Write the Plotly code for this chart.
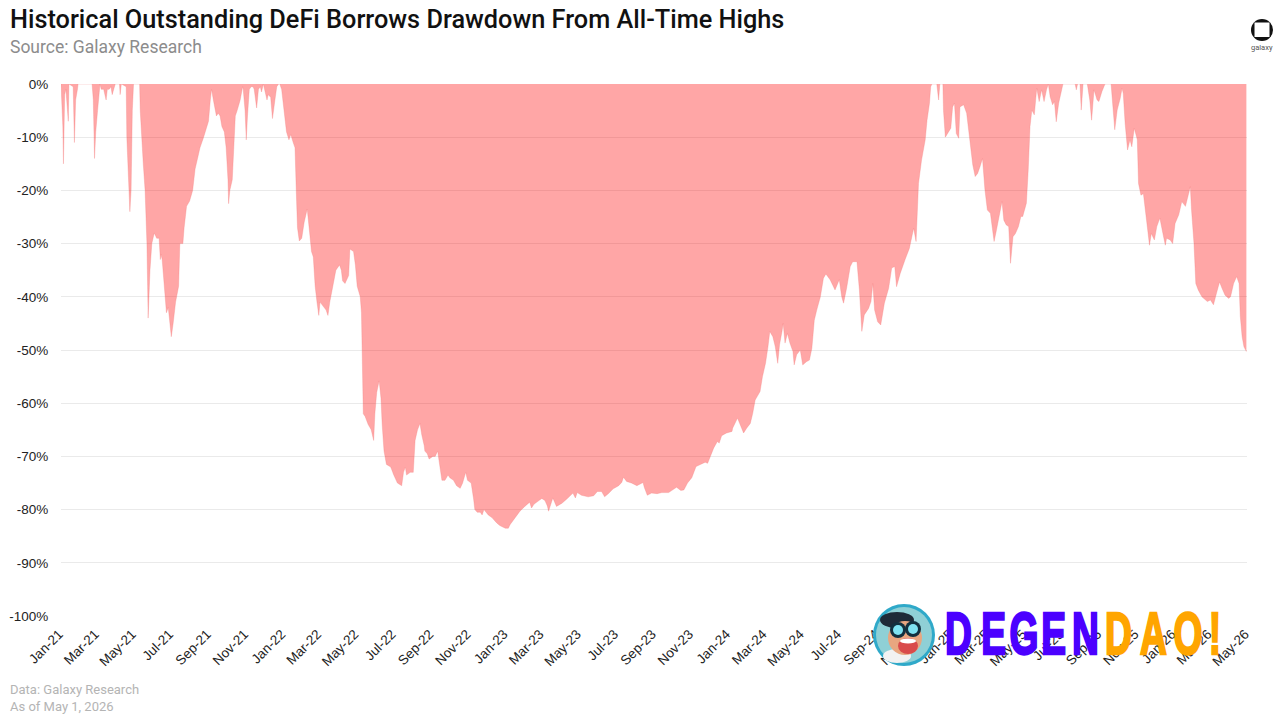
import datetime as dt
import plotly.graph_objects as go

START = dt.date(2021, 1, 1)

days_since_start = [
    0,3,4,6,8,12,13,20,22,24,27,28,51,53,55,57,60,62,64,66,70,74,76,79,82,84,87,89,96,97,99,107,108,111,113,115,117,119,129,
    130,132,135,138,141,143,146,149,153,157,161,163,164,166,169,173,176,179,181,184,188,193,195,200,202,206,211,216,220,224,228,234,238,242,245,247,250,253,255,258,261,264,268,271,274,275,277,281,283,286,289,294,298,299,302,304,306,309,312,315,317,321,324,327,329,332,338,340,344,347,351,354,357,
    359,362,366,370,374,377,381,384,386,388,391,395,399,404,408,411,414,417,420,423,425,431,435,438,441,446,451,457,460,462,466,472,474,480,483,486,491,493,494,496,499,504,509,513,515,518,522,525,527,530,534,541,546,552,559,562,565,567,573,578,581,585,589,592,596,597,601,604,610,614,618,622,625,630,635,638,644,649,655,659,664,667,673,677,679,683,688,691,694,701,707,715,720,729,734,
    737,745,753,761,769,772,776,783,789,794,798,800,804,807,813,822,830,835,840,844,847,854,865,874,880,887,892,898,906,915,920,923,928,936,945,955,957,962,969,978,986,997,1005,1010,1017,1022,1028,1035,1042,1051,1057,1061,1065,1071,1077,1080,1084,1092,1101,1102,1110,1114,1120,1125,1131,1135,1139,
    1142,1147,1151,1156,1160,1163,1168,1172,1176,1179,1183,1185,1188,1192,1196,1201,1203,1207,1213,1217,1223,1228,1232,1236,1240,1246,1251,1255,1262,1270,1277,1281,1284,1289,1295,1299,1306,1310,1314,1318,1325,1329,1332,1335,1340,1345,1351,1358,1363,1368,1371,1377,
    1385,1392,1399,1403,1407,1412,1418,1421,1425,1427,1429,1437,1440,1442,1447,1448,1451,1453,1458,1460,1463,1466,1469,1473,1475,1481,1486,1492,1496,1500,1504,1508,1512,1516,1520,1525,1529,1531,1535,1540,1544,1547,1551,1555,1558,1562,1566,1571,1575,1578,1584,1587,1590,1593,1597,1601,1605,1609,1613,1617,1620,1623,1627,1630,1633,1637,1640,1644,1664,1666,1668,1672,1674,1677,1684,1688,1691,1695,1700,1703,1708,1713,1723,1726,1729,1733,1738,1741,1743,1746,1750,1754,1757,1761,1766,1768,1772,1776,1779,1783,1786,1789,1794,1798,1803,1808,1812,1814,1820,1824,1828,1834,1839,1845,1848,1853,1855,1859,1862,1866,1872,1877,1881,1886,1891,1896,1901,1905,1910,1916,1919,1924,1929,1933,1935,1938,1941,1945,
]

drawdown_pct = [
    0,-8,-15,-2,-1,-7,0,-0.5,-11,-3,-1,0,0,-3,-14,-9,-5,-2,0,-1,-1,-3,-1,-1,-0.5,-2,-1,0,0,-2,0,-0.5,-10,-18,-24,-20,-5,0,0,
    -5,-10,-15,-20,-30,-44,-35,-30,-28,-29,-29,-33,-32,-33,-37,-43,-42,-46,-47.5,-45,-41,-38,-30,-30,-27,-23,-22,-20,-16,-14,-12,-10,-8.5,-7,-3,-1,-3,-5,-6,-5.5,-6,-8,-9,-12,-18,-22.5,-20,-18,-12,-6,-5,-3,-0.5,-1,-5,-10.5,-6,-1,-0.5,-0.5,-1,-4.5,-1,-0.5,-1.5,0,-3,-2,-2.5,-6.5,-3,-0.5,0,
    0,-1,-5,-9,-10.5,-9.5,-11,-12,-20,-27,-29.5,-29,-26,-23.5,-28,-31.5,-32.5,-38,-41,-43.5,-41,-42,-42.5,-43.5,-41,-38,-35,-34,-35,-37,-37.5,-36,-31,-31.5,-34,-38,-40,-43,-52,-62,-62.5,-64,-65,-67,-62,-58,-55.8,-59,-64,-69,-71.5,-72,-73.5,-75,-75.5,-73,-72,-73.5,-73,-73,-67,-65,-63.8,-66,-68,-69,-69.5,-70.5,-70,-70,-69,-72,-74.5,-74.5,-73.5,-74,-74.5,-75.5,-76,-75,-73,-74.5,-75,-78,-80,-80.5,-80.5,-81,-80,-81,-81.5,-82.5,-83,-83.5,-83.5,
    -82.8,-81.6,-80.3,-79.4,-78.6,-79.7,-79,-78.4,-77.9,-78.3,-79.3,-80.3,-78.8,-77.8,-79.4,-78.8,-78,-77.5,-76.9,-77.8,-76.8,-77.3,-77.6,-77.4,-76.6,-76.6,-77.6,-77,-76.1,-75.5,-74.9,-73.9,-74.7,-75,-75.5,-74.9,-75.8,-77.3,-76.9,-77,-76.8,-76.8,-76.1,-75.8,-76.4,-76.3,-75,-74,-71.9,-71.4,-71.1,-71.3,-70,-68.4,-67.2,-67.5,-66.1,-65.6,-65.3,-64.7,-62.8,-63.8,-65.6,-64.7,-63.8,-61.9,-59.4,
    -58.8,-57.8,-55,-52.5,-49.4,-46.5,-47.5,-49.4,-52.5,-49,-46.5,-45,-48.7,-46.9,-48.7,-50.3,-52.8,-50.9,-50,-52.8,-52.2,-51.9,-49.7,-44.4,-42.5,-40,-36.5,-35.7,-36.8,-38.7,-36.8,-40,-41.2,-38.4,-34.3,-33.4,-33.4,-38.7,-46.5,-43.4,-42.2,-40.9,-37.5,-42.5,-44.7,-45.3,-41.2,-38.4,-34.6,-34.3,-38.1,-35.6,
    -33,-30.9,-27.1,-29.6,-18.7,-14.3,-10.5,-6.8,-3.6,-0.5,0,0,-3,0,0,-5,-10,-9.6,-8.6,-8.3,-4.3,-3.6,-9.3,-10.2,-4.3,-3.9,-5.5,-11.2,-15.2,-17.4,-16.8,-15.5,-14,-19.9,-23.7,-24.3,-27.4,-29.6,-27.4,-24.3,-22.1,-25.6,-26.5,-26.8,-33.7,-28.7,-28.1,-26.8,-24.9,-24.9,-22.4,-16.2,-8,-4.9,-5.8,-0.8,-3.3,-1.1,-3.3,-1.1,0,-2.4,-3.9,-3.3,-7.1,-3.6,-1.8,0,0,-1.1,0,0,-4.9,0,0,-3,-6.8,-1.1,-3,-3.3,-1.4,0,0,-3.6,-8.6,-4.9,-2.7,-0.8,-1.8,-7.4,-12.4,-10.5,-11.8,-8.3,-10.5,-18.7,-20.9,-20.6,-23.7,-27.4,-30.3,-28.1,-29.3,-26.8,-25.2,-28.1,-30.3,-29,-29.3,-30,-26.2,-24.6,-22.1,-23,-21.5,-19.3,-23.7,-30,-37.5,-38.7,-40,-40.6,-40.9,-40.6,-41.5,-39.3,-37.2,-38.4,-39.7,-40.3,-40,-37.5,-36.2,-37.5,-43.7,-47.5,-49.4,-50.3,
]

y_ticks = [0, -10, -20, -30, -40, -50, -60, -70, -80, -90, -100]
watermark_letters = list("DEGENDAO!")
watermark_centers = [958.5, 993, 1023.5, 1053, 1085.5, 1118, 1153, 1187.5, 1215]
watermark_colors = ["#4B00FF"] * 5 + ["#FFA500"] * 4

dates = [START + dt.timedelta(days=d) for d in days_since_start]

W, H = 1280, 722
L, R, T, B = 61, 1247, 84, 616
X = lambda px: (px - L) / (R - L)
Y = lambda py: (B - py) / (B - T)

fig = go.Figure(go.Scatter(
    x=dates, y=drawdown_pct, mode="lines", line=dict(width=0.5, color="rgba(240,120,120,0.6)"),
    fill="tozeroy", fillcolor="rgba(255,0,0,0.35)", hoverinfo="x+y",
))

def note(px, py, text, size, color, family="Roboto", weight=None, anchor="left"):
    fig.add_annotation(
        x=X(px), y=Y(py), xref="paper", yref="paper", text=text, showarrow=False,
        xanchor=anchor, yanchor="middle", align="left", borderpad=0,
        font=dict(family=family, size=size, color=color, weight=weight),
    )

def blob(cx, cy, rx, ry, fill):
    fig.add_shape(type="circle", xref="paper", yref="paper", layer="above",
                  x0=X(cx - rx), x1=X(cx + rx), y0=Y(cy + ry), y1=Y(cy - ry),
                  fillcolor=fill, line=dict(color=fill, width=0))

note(8.5, 19, "Historical Outstanding DeFi Borrows Drawdown From All-Time Highs", 25.3, "#111111", weight=500)
note(8.5, 47, "Source: Galaxy Research", 17.5, "#8c8c8c")
note(9, 689, "Data: Galaxy Research", 13, "#b4b4b4")
note(9, 706, "As of May 1, 2026", 13, "#b4b4b4")

# Galaxy logo
blob(1262, 30, 11, 11, "#111111")
fig.add_shape(type="rect", xref="paper", yref="paper", layer="above",
              x0=X(1254.5), x1=X(1269.5), y0=Y(37), y1=Y(22.5),
              fillcolor="white", line=dict(color="white", width=0))
note(1262, 48, "galaxy", 7.5, "#555555", anchor="center")

# Watermark badge
blob(904, 635, 31, 31, "#2FA9C9")
blob(904, 635, 28, 28, "#8FD0D6")
blob(897, 620, 17, 8, "#1E2A38")
blob(897, 656, 14, 7, "#F2F2F2")
blob(905, 638, 17, 17, "#E8A680")
blob(898, 630, 8, 8, "#12303F")
blob(913, 629, 8, 8, "#12303F")
blob(898, 630, 5, 5, "#7FE3F2")
blob(913, 629, 5, 5, "#7FE3F2")
blob(908, 646, 10, 8, "#D94B4B")
blob(908, 641, 8, 2.5, "#FFFFFF")

for letter, cx, color in zip(watermark_letters, watermark_centers, watermark_colors):
    note(cx, 634, letter, 59, color, family="Liberation Sans", weight=700, anchor="center")

fig.update_layout(
    width=W, height=H, autosize=False, showlegend=False,
    paper_bgcolor="white", plot_bgcolor="white",
    margin=dict(l=L, r=W - R, t=T, b=H - B, pad=0, autoexpand=False),
    font=dict(family="Liberation Sans", size=13.5, color="#222222"),
    xaxis=dict(type="date", range=[START, dt.date(2026, 5, 1)], tick0="2021-01-01", dtick="M2",
               tickformat="%b-%y", tickangle=-45, showgrid=False, zeroline=False, showline=False,
               automargin=False, ticks="outside", ticklen=4, tickcolor="rgba(0,0,0,0)",
               ticklabelshift=-2, tickfont=dict(size=13.5, color="#222222")),
    yaxis=dict(range=[-100, 0], tickvals=y_ticks, ticktext=[f"{v}%" for v in y_ticks],
               showgrid=True, gridcolor="#EAEAEA", gridwidth=1, zeroline=False, showline=False,
               automargin=False, ticks="outside", ticklen=9, tickcolor="rgba(0,0,0,0)",
               tickfont=dict(size=13.5, color="#222222")),
)

# Remove the page margin; narrow the heavy watermark glyphs to the reference's condensed look.
post = """
document.body.style.margin = '0';
document.querySelectorAll('text.annotation-text').forEach(function (t) {
  var s = t.textContent;
  if (s.length === 1 && 'DEGNAO!'.indexOf(s) >= 0) {
    var bb = t.getBBox();
    var cx = bb.x + bb.width / 2;
    t.setAttribute('transform', 'translate(' + cx + ',0) scale(0.63,1) translate(' + (-cx) + ',0)');
    t.style.stroke = t.style.fill;
    t.style.strokeWidth = '2.5px';
  }
});
"""
fig.write_html("out.html", config={"displayModeBar": False}, post_script=post)
